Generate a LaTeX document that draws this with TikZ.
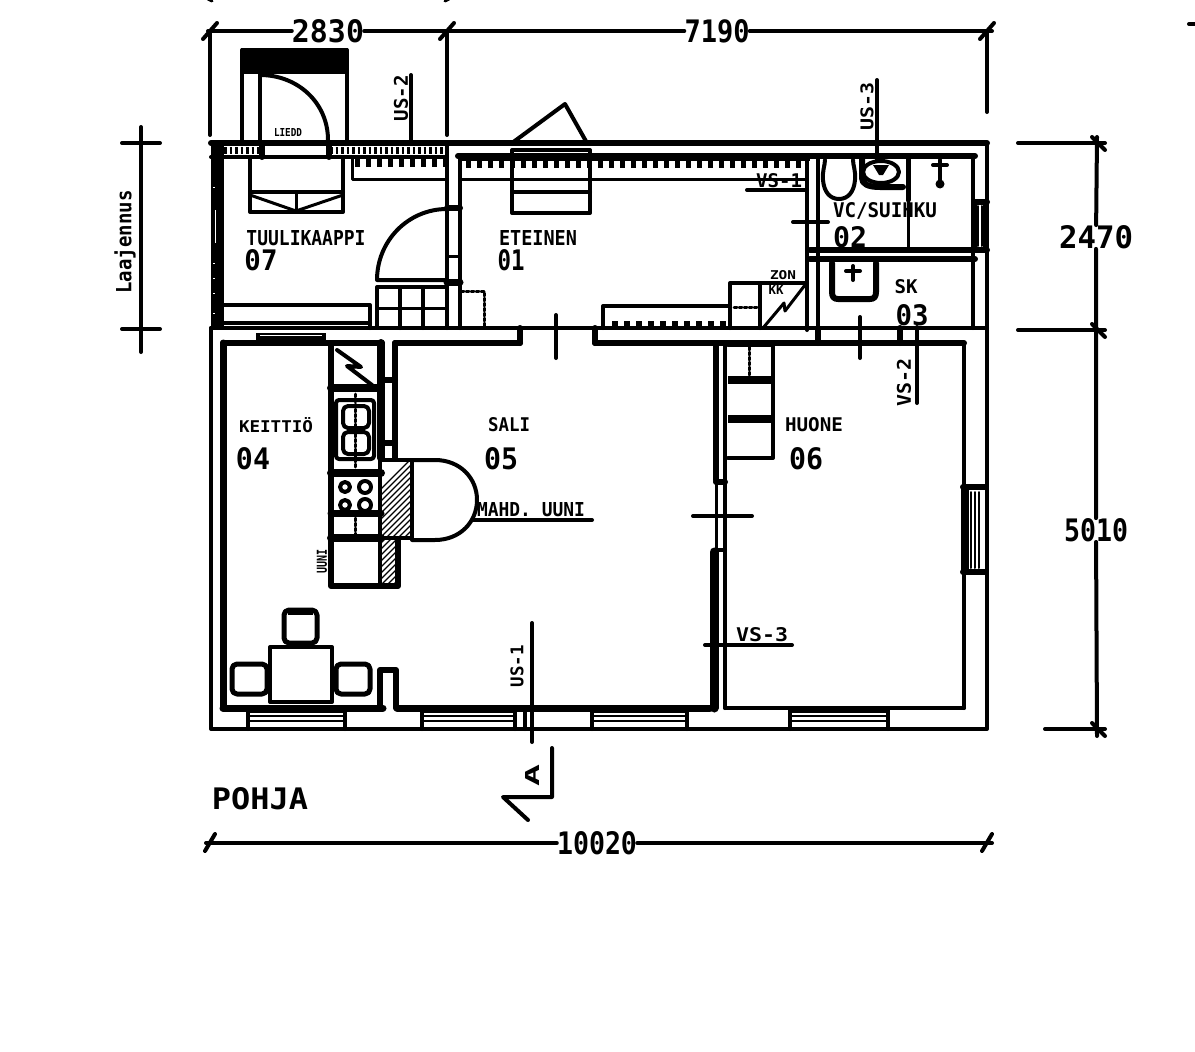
\documentclass[tikz,border=0pt]{standalone}
\usepackage{fontspec}
\setmainfont{DejaVu Sans Mono}
\newcommand{\fitlab}[3]{\resizebox{#1pt}{#2pt}{#3}}
\tikzset{
	wall/.style={line width=6pt},
	stroke/.style={line width=4pt},
	fine/.style={line width=3pt},
	lab/.style={inner sep=0pt,font=\bfseries},
}
\begin{document}
\begin{tikzpicture}[x=1pt,y=-1pt,line cap=round,line join=round]
	\useasboundingbox (0,0) rectangle (1195,1052);
	\fill[white] (0,0) rectangle (1195,1052);

	% outer walls
	\draw[wall] (211,143) -- (987,143);
	\draw[stroke] (987,143) -- (987,729) -- (211,729) -- (211,328);
	\draw[stroke] (211,328) -- (987,328);
	\draw[line width=13pt,line cap=butt] (217,146) -- (217,328);
	\foreach \y in {187,263,278,293,313}
		\draw[white,line width=1pt,line cap=butt] (213,\y) -- (215,\y);
	\draw[white,line width=1pt,line cap=butt] (215,210) -- (215,243);

	% top wall band
	\draw[line width=7pt,line cap=butt,dash pattern=on 2.5pt off 3pt] (224,150) -- (262,150);
	\draw[line width=7pt,line cap=butt,dash pattern=on 2.5pt off 3pt] (330,150) -- (447,150);
	\draw[stroke] (211,157) -- (262,157);
	\draw[stroke] (330,157) -- (447,157);
	\draw[wall] (262,143) -- (262,157);
	\draw[wall] (329,143) -- (329,157);
	\draw[line width=8pt,line cap=butt,dash pattern=on 5pt off 6pt] (355,163) -- (447,163);
	\draw[fine] (352,157) -- (352,179) -- (447,179);

	% wind porch closet
	\draw[stroke] (242,143) -- (242,50) -- (347,50) -- (347,143);
	\fill (241,48) rectangle (348,74);
	\draw[stroke] (260,74) -- (260,141);
	\draw[stroke] (260,75) .. controls (298,75) and (328,103) .. (328,140);
	\node[lab] (vs) at (288,132) {\fitlab{28}{8}{LIEDD}};
	\draw[stroke] (250,157) rectangle (343,212);
	\draw[stroke] (250,192) -- (343,192);
	\draw[fine] (250,195) -- (296,211) -- (343,195);
	\draw[fine] (296,192) -- (296,212);

	% wall between 07 and 01
	\draw[stroke] (447,143) -- (447,328);
	\draw[stroke] (460,156) -- (460,328);
	\draw[wall] (447,208) -- (460,208);
	\draw[fine] (447,256) -- (460,256);
	\draw[line width=7pt] (447,282) -- (460,282);
	\draw[stroke] (447,209) .. controls (408,209) and (377,241) .. (377,280) -- (447,280);
	\draw[stroke] (377,287) rectangle (447,328);
	\draw[stroke] (400,287) -- (400,328);
	\draw[stroke] (423,287) -- (423,328);
	\draw[fine] (377,308) -- (447,308);
	\draw[fine,densely dashed] (461,291) -- (484,291) -- (484,328);
	\draw[stroke] (223,305) -- (370,305) -- (370,328);
	\draw[stroke] (223,323) -- (370,323);

	% hall
	\draw[line width=8pt,line cap=butt] (458,157) -- (810,157);
	\draw[line width=8pt,line cap=butt,dash pattern=on 5pt off 6pt] (466,164) -- (806,164);
	\draw[fine] (460,179) -- (807,179);
	\draw[stroke] (512,150) rectangle (590,213);
	\draw[stroke] (512,192) -- (590,192);
	\draw[stroke] (512,143) -- (565,104) -- (587,143);
	\draw[stroke] (603,328) -- (603,306) -- (730,306);
	\draw[line width=6pt,line cap=butt,dash pattern=on 6pt off 6pt] (612,324) -- (728,324);
	\draw[stroke] (730,328) -- (730,283) -- (807,283);
	\draw[stroke] (760,283) -- (760,328);
	\draw[fine,densely dashed] (734,307) -- (757,307);
	\draw[fine] (763,328) -- (784,303) -- (785,311) -- (805,285);
	\node[lab] (zon) at (783,275) {\fitlab{26}{9}{ZON}};
	\node[lab] (kk) at (776,290) {\fitlab{15}{9}{KK}};

	% wall between upper rooms and lower rooms
	\draw[stroke] (807,156) -- (807,330);
	\draw[stroke] (818,156) -- (818,342);
	\draw[wall] (458,156) -- (975,156);
	\draw[stroke] (973,156) -- (973,328);
	\draw[stroke] (975,202) -- (975,250);
	\draw[stroke] (985,202) -- (985,250);
	\draw[wall] (975,202) -- (987,202);
	\draw[wall] (975,250) -- (987,250);
	\draw[line width=2pt] (978,206) -- (978,246);
	\draw[line width=2pt] (982,206) -- (982,246);
	\draw[wall] (810,250) -- (975,250);
	\draw[wall] (810,259) -- (975,259);
	\draw[fine] (908,200) -- (908,250);
	\draw[line width=5pt,densely dotted] (908,157) -- (908,200);
	\draw[wall] (520,328) -- (520,343);
	\draw[wall] (595,328) -- (595,343);
	\draw[wall] (818,328) -- (818,343);
	\draw[wall] (900,328) -- (900,343);

	% bathroom
	\draw[stroke] (825,160) .. controls (825,165) and (822,172) .. (823,180) .. controls (824,192) and (830,199) .. (839,199) .. controls (848,199) and (854,192) .. (855,180) .. controls (856,172) and (853,165) .. (853,160);
	\draw[wall] (862,158) -- (862,178) .. controls (862,184) and (868,187) .. (880,187) -- (903,187);
	\draw[stroke] (881,172) ellipse[x radius=18,y radius=11];
	\fill (873,165) -- (889,165) -- (883,175) -- (879,175) -- cycle;
	\draw[stroke] (933,165) -- (947,165);
	\draw[stroke] (940,160) -- (940,182);
	\fill (940,184) circle[radius=4.5];
	\draw[line width=6pt] (832,263) -- (832,292) .. controls (832,297) and (834,299) .. (838,299) -- (870,299) .. controls (874,299) and (876,297) .. (876,292) -- (876,263);
	\draw[stroke] (846,271) -- (860,271);
	\draw[stroke] (853,266) -- (853,280);

	% lower rooms top
	\draw[wall] (223,343) -- (382,343);
	\draw[wall] (395,343) -- (520,343);
	\draw[wall] (595,343) -- (964,343);
	\draw[line width=8pt,line cap=butt] (256,337) -- (326,337);
	\draw[white,line width=1pt,line cap=butt] (260,335) -- (322,335);
	\draw[line width=7pt] (223,343) -- (223,708);
	\draw[line width=7pt] (223,708) -- (383,708);
	\draw[line width=7pt] (397,708) -- (710,708);
	\draw[stroke] (725,708) -- (964,708);
	\draw[stroke] (964,343) -- (964,708);

	% kitchen
	\draw[wall] (331,343) -- (331,586) -- (398,586) -- (398,540);
	\draw[line width=8pt] (381,343) -- (381,458);
	\draw[wall] (395,343) -- (395,458);
	\draw[wall] (381,380) -- (395,380);
	\draw[wall] (381,443) -- (395,443);
	\draw[line width=8pt] (331,388) -- (381,388);
	\draw[line width=8pt] (331,473) -- (381,473);
	\draw[line width=7pt] (331,513) -- (381,513);
	\draw[line width=8pt] (331,538) -- (381,538);
	\draw[stroke] (337,350) -- (361,367) -- (347,366) -- (372,385);
	\draw[stroke,rounded corners=3pt] (336,400) rectangle (374,459);
	\draw[stroke,rounded corners=5pt] (343,406) rectangle (369,428);
	\draw[stroke,rounded corners=5pt] (343,432) rectangle (369,454);
	\draw[fine,densely dashed] (355,394) -- (355,468);
	\foreach \cx/\cy/\rr in {345/487/5,365/487/6,345/505/5,365/505/6}
		\draw[stroke] (\cx,\cy) circle[radius=\rr];
	\draw[fine,densely dashed] (355,518) -- (355,534);
	\node[lab,rotate=90] (uuni) at (322,561) {\fitlab{24}{10}{UUNI}};

	% fireplace
	\draw[stroke] (380,460) rectangle (412,538);
	\draw[stroke] (380,538) rectangle (398,586);
	\begin{scope}
		\clip (380,460) rectangle (411,538) (380,538) rectangle (398,586);
		\foreach \i in {0,6,...,200}
			\draw[line width=1.2pt,line cap=butt] (280+\i,590) -- (420+\i,450);
	\end{scope}
	\draw[stroke] (412,460) -- (435,460) .. controls (460,460) and (477,478) .. (477,500) .. controls (477,522) and (460,540) .. (435,540) -- (412,540);

	% dining table
	\draw[stroke] (270,647) rectangle (332,702);
	\draw[line width=5pt,rounded corners=5pt] (284,610) rectangle (317,643);
	\draw[line width=7pt,line cap=butt] (288,611) -- (313,611);
	\draw[line width=5pt,rounded corners=5pt] (232,664) rectangle (267,694);
	\draw[line width=5pt,rounded corners=5pt] (336,664) rectangle (370,694);
	\draw[wall] (380,708) -- (380,670) -- (396,670) -- (396,708);

	% windows
	\foreach \xa/\xb in {248/345,422/515,592/687,790/888} {
		\draw[stroke] (\xa,708) -- (\xa,729);
		\draw[stroke] (\xb,708) -- (\xb,729);
		\draw[line width=2pt,line cap=butt] (\xa,716) -- (\xb,716);
		\draw[line width=2pt,line cap=butt] (\xa,721) -- (\xb,721);
		\draw[wall,line cap=butt] (\xa,710) -- (\xb,710);
	}
	\draw[stroke] (525,708) -- (525,729);
	\draw[stroke] (963,487) -- (963,572);
	\draw[wall] (963,487) -- (985,487);
	\draw[wall] (963,572) -- (985,572);
	\draw[wall,line cap=butt] (966,490) -- (966,570);
	\foreach \x in {971,975,979}
		\draw[line width=2pt] (\x,492) -- (\x,568);

	% wall between sali and huone
	\draw[wall] (716,343) -- (716,480);
	\draw[stroke] (725,343) -- (725,708);
	\draw[line width=9pt] (714,552) -- (714,708);
	\draw[wall] (716,482) -- (725,482);
	\draw[stroke] (714,550) -- (725,550);
	\draw[fine] (716,480) -- (716,550);

	% wardrobe
	\draw[stroke] (728,345) -- (773,345) -- (773,458) -- (728,458);
	\draw[line width=8pt,line cap=butt] (728,380) -- (773,380);
	\draw[line width=8pt,line cap=butt] (728,419) -- (773,419);
	\draw[fine,densely dashed] (749,347) -- (749,375);

	% door and section marks
	\draw[stroke] (556,315) -- (556,358);
	\draw[stroke] (860,317) -- (860,358);
	\draw[stroke] (793,222) -- (828,222);
	\draw[stroke] (693,516) -- (752,516);

	\draw[stroke] (411,75) -- (411,143);
	\node[lab,rotate=90] (us2) at (401,98) {\fitlab{46}{14}{US-2}};
	\draw[stroke] (877,80) -- (877,160);
	\node[lab,rotate=90] (us3) at (867,106) {\fitlab{48}{13}{US-3}};
	\draw[stroke] (917,327) -- (917,403);
	\node[lab,rotate=90] (vs2) at (904,382) {\fitlab{48}{14}{VS-2}};
	\draw[stroke] (532,623) -- (532,742);
	\node[lab,rotate=90] (us1) at (517,666) {\fitlab{42}{13}{US-1}};
	\draw[stroke] (747,190) -- (807,190);
	\node[lab] (vs1) at (779,181) {\fitlab{46}{14}{VS-1}};
	\draw[stroke] (705,645) -- (792,645);
	\node[lab] (vs3) at (762,635) {\fitlab{52}{14}{VS-3}};
	\draw[stroke] (472,520) -- (592,520);
	\node[lab] (mahd) at (531,510) {\fitlab{108}{14}{MAHD. UUNI}};

	% room names
	\node[lab] (tuuli) at (306,238) {\fitlab{119}{15}{TUULIKAAPPI}};
	\node[lab] (n07) at (261,260) {\fitlab{33}{21}{07}};
	\node[lab] (etei) at (538,238) {\fitlab{78}{15}{ETEINEN}};
	\node[lab] (n01) at (511,260) {\fitlab{27}{21}{01}};
	\node[lab] (wc) at (885,211) {\fitlab{104}{15}{VC/SUIHKU}};
	\node[lab] (n02) at (850,237) {\fitlab{34}{21}{02}};
	\node[lab] (sk) at (906,287) {\fitlab{23}{14}{SK}};
	\node[lab] (n03) at (912,315) {\fitlab{33}{21}{03}};
	\node[lab] (keit) at (276,425) {\fitlab{74}{15}{KEITTIÖ}};
	\node[lab] (n04) at (253,459) {\fitlab{34}{22}{04}};
	\node[lab] (sali) at (509,425) {\fitlab{42}{14}{SALI}};
	\node[lab] (n05) at (501,459) {\fitlab{34}{22}{05}};
	\node[lab] (huone) at (814,425) {\fitlab{58}{14}{HUONE}};
	\node[lab] (n06) at (806,459) {\fitlab{34}{22}{06}};
	\node[lab] (pohja) at (260,799) {\fitlab{96}{22}{POHJA}};

	% section arrow
	\coordinate (secA) at (552,748);
	\coordinate (secB) at (552,797);
	\coordinate (secC) at (503,797);
	\coordinate (secD) at (528,820);
	\draw[stroke] (secA) -- (secB) -- (secC) -- (secD);
	\node[lab,rotate=90] (secl) at (532,775) {\fitlab{22}{14}{A}};

	% dimensions
	\node[lab] (d2830) at (328,31) {\fitlab{72}{23}{2830}};
	\node[lab] (d7190) at (717,31) {\fitlab{65}{23}{7190}};
	\node[lab] (d10020) at (597,843) {\fitlab{80}{23}{10020}};
	\node[lab] (d2470) at (1096,237) {\fitlab{74}{23}{2470}};
	\node[lab] (d5010) at (1096,530) {\fitlab{64}{23}{5010}};
	\coordinate (topL) at (208,31);
	\coordinate (topM) at (447,31);
	\coordinate (topR) at (992,31);
	\coordinate (botL) at (206,843);
	\coordinate (botR) at (992,843);
	\coordinate (sideT) at (1097,137);
	\coordinate (sideB) at (1097,736);
	\draw[stroke] (topL) -- (d2830) -- (topM) -- (d7190) -- (topR);
	\draw[stroke] (botL) -- (d10020) -- (botR);
	\draw[stroke] (sideT) -- (d2470) -- (d5010) -- (sideB);
	\foreach \x in {210,447,987} {
		\draw[stroke] (\x,31) -- (\x,\ifnum\x=987 112\else 135\fi);
		\draw[stroke] (\x-7,39) -- (\x+7,23);
	}
	\foreach \x in {210,987}
		\draw[stroke] (\x-5,851) -- (\x+5,834);
	\draw[stroke] (1018,143) -- (1105,143);
	\draw[stroke] (1018,330) -- (1105,330);
	\draw[stroke] (1045,729) -- (1105,729);
	\foreach \y in {143,330,729}
		\draw[stroke] (1092,\y-6) -- (1105,\y+7);
	\draw[stroke] (141,127) -- (141,352);
	\draw[stroke] (122,143) -- (160,143);
	\draw[stroke] (122,329) -- (160,329);
	\node[lab,rotate=90] (laaj) at (125,242) {\fitlab{103}{17}{Laajennus}};

	% bits cut off at the edges
	\draw[stroke] (1189,24) -- (1197,24);
	\draw[fine] (208,-1) -- (212,1);
	\draw[fine] (445,1) -- (449,-1);
\end{tikzpicture}
\end{document}
